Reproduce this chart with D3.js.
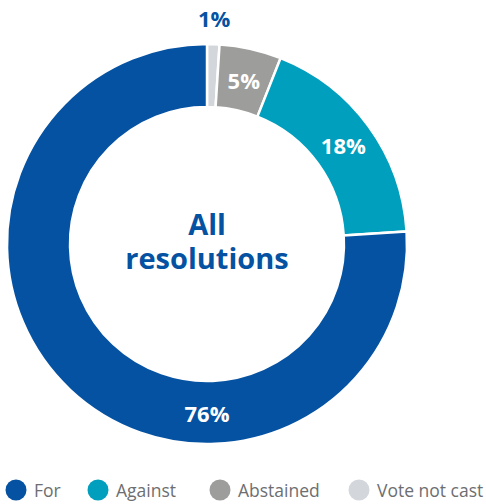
<!DOCTYPE html>
<html>
<head>
<meta charset="utf-8">
<script src="https://cdn.jsdelivr.net/npm/d3@7"></script>
<style>
  html, body { margin: 0; padding: 0; background: #fff; }
  svg { display: block; font-family: "Open Sans", sans-serif; }
</style>
</head>
<body>
<svg id="chart" width="486" height="504"></svg>
<script>
// Vote breakdown, clockwise from 12 o'clock
const categories = ["Vote not cast", "Abstained", "Against", "For"];
const values = [1, 5, 18, 76];
const colors = ["#d3d7db", "#9d9d9c", "#009fbd", "#0552a2"];
const legendOrder = ["For", "Against", "Abstained", "Vote not cast"];
const centerTitle = ["All", "resolutions"];

const svg = d3.select("#chart");
const cx = 207, cy = 244;
const outerR = 200, innerR = 137;

const data = categories.map((c, i) => ({ name: c, value: values[i] }));
const color = d3.scaleOrdinal().domain(categories).range(colors);

const pie = d3.pie().value(d => d.value).sort(null);
const arcs = pie(data);
const arc = d3.arc().innerRadius(innerR).outerRadius(outerR);

const g = svg.append("g").attr("transform", `translate(${cx},${cy})`);

g.selectAll("path.slice")
  .data(arcs)
  .join("path")
  .attr("class", "slice")
  .attr("d", arc)
  .attr("fill", d => color(d.data.name))
  .attr("stroke", "#fff")
  .attr("stroke-width", 2.5);

// Percentage labels: inside the ring, except small slices which sit outside
const midR = (innerR + outerR) / 2;
function labelPos(d) {
  let a = (d.startAngle + d.endAngle) / 2;
  let r = midR;
  if (d.data.name === "For") a = Math.PI;            // bottom of the ring
  if (d.data.value < 3) r = outerR + 26;              // outside the ring
  return [Math.sin(a) * r, -Math.cos(a) * r];
}

g.selectAll("text.pct")
  .data(arcs)
  .join("text")
  .attr("class", "pct")
  .attr("transform", d => `translate(${labelPos(d)})`)
  .attr("text-anchor", "middle")
  .attr("dominant-baseline", "central")
  .attr("font-weight", 700)
  .attr("font-size", 22)
  .attr("fill", d => d.data.value < 3 ? "#0552a2" : "#fff")
  .text(d => d.data.value + "%");

// Centre title, one text per line
g.selectAll("text.title")
  .data(centerTitle)
  .join("text")
  .attr("class", "title")
  .attr("text-anchor", "middle")
  .attr("font-weight", 700)
  .attr("font-size", 29)
  .attr("fill", "#0552a2")
  .attr("y", (d, i) => -9 + i * 34)
  .text(d => d);

// Legend
const xPos = { "For": 16, "Against": 98, "Abstained": 220, "Vote not cast": 359 };
const legend = svg.append("g").attr("transform", "translate(0,490)");
const items = legend.selectAll("g.item")
  .data(legendOrder)
  .join("g")
  .attr("class", "item")
  .attr("transform", d => `translate(${xPos[d]},0)`);
items.append("circle")
  .attr("r", 10.5)
  .attr("fill", d => color(d));
items.append("text")
  .attr("x", 18)
  .attr("dominant-baseline", "central")
  .attr("font-size", 17.5)
  .attr("fill", "#6d6e71")
  .text(d => d);
</script>
</body>
</html>
